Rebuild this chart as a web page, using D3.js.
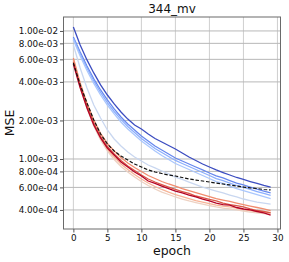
<!DOCTYPE html>
<html>
<head>
<meta charset="utf-8">
<script src="https://cdn.jsdelivr.net/npm/d3@7"></script>
<style>
  body { margin: 0; background: #fff; }
  svg { display: block; font-family: "DejaVu Sans", sans-serif; }
</style>
</head>
<body>
<div id="chart"></div>
<script>
// epochs 0..29, MSE per run
const epochs = d3.range(0, 30);

const runBlue0 = [1.075e-2, 7.77e-3, 5.94e-3, 4.70e-3, 3.79e-3, 3.16e-3, 2.69e-3, 2.33e-3, 2.05e-3, 1.843e-3,
  1.715e-3, 1.568e-3, 1.446e-3, 1.358e-3, 1.275e-3, 1.197e-3, 1.114e-3, 1.037e-3, 9.74e-4, 9.14e-4,
  8.66e-4, 8.21e-4, 7.84e-4, 7.50e-4, 7.17e-4, 6.92e-4, 6.67e-4, 6.44e-4, 6.21e-4, 6.04e-4];
const runBlue1 = [8.98e-3, 6.85e-3, 5.33e-3, 4.22e-3, 3.46e-3, 2.89e-3, 2.46e-3, 2.13e-3, 1.877e-3, 1.685e-3,
  1.512e-3, 1.382e-3, 1.263e-3, 1.176e-3, 1.094e-3, 1.018e-3, 9.65e-4, 9.14e-4, 8.66e-4, 8.21e-4,
  7.77e-4, 7.37e-4, 7.11e-4, 6.79e-4, 6.49e-4, 6.27e-4, 6.04e-4, 5.83e-4, 5.62e-4, 5.43e-4];
const runBlue2 = [8.82e-3, 6.61e-3, 5.14e-3, 4.07e-3, 3.31e-3, 2.76e-3, 2.35e-3, 2.04e-3, 1.794e-3, 1.611e-3,
  1.446e-3, 1.322e-3, 1.208e-3, 1.124e-3, 1.046e-3, 9.74e-4, 9.22e-4, 8.74e-4, 8.28e-4, 7.84e-4,
  7.43e-4, 7.04e-4, 6.79e-4, 6.49e-4, 6.21e-4, 5.99e-4, 5.78e-4, 5.57e-4, 5.38e-4, 5.19e-4];
const runBlue3 = [8.51e-3, 6.38e-3, 4.91e-3, 3.89e-3, 3.16e-3, 2.64e-3, 2.25e-3, 1.946e-3, 1.715e-3, 1.540e-3,
  1.382e-3, 1.263e-3, 1.155e-3, 1.065e-3, 9.91e-4, 9.22e-4, 8.74e-4, 8.28e-4, 7.84e-4, 7.43e-4,
  7.04e-4, 6.67e-4, 6.44e-4, 6.15e-4, 5.88e-4, 5.67e-4, 5.47e-4, 5.28e-4, 5.09e-4, 4.91e-4];
const runBlue4 = [7.77e-3, 5.14e-3, 3.59e-3, 2.64e-3, 2.09e-3, 1.685e-3, 1.433e-3, 1.263e-3, 1.134e-3, 1.037e-3,
  9.65e-4, 8.98e-4, 8.51e-4, 8.06e-4, 7.64e-4, 7.23e-4, 6.92e-4, 6.61e-4, 6.32e-4, 6.04e-4,
  5.83e-4, 5.62e-4, 5.43e-4, 5.23e-4, 5.05e-4, 4.87e-4, 4.74e-4, 4.61e-4, 4.53e-4, 4.45e-4];
const runRed4 = [5.83e-3, 3.65e-3, 2.50e-3, 1.811e-3, 1.407e-3, 1.155e-3, 9.91e-4, 8.74e-4, 7.92e-4, 7.23e-4,
  6.67e-4, 6.21e-4, 5.83e-4, 5.52e-4, 5.28e-4, 5.05e-4, 4.87e-4, 4.70e-4, 4.57e-4, 4.45e-4,
  4.33e-4, 4.22e-4, 4.14e-4, 4.07e-4, 4.00e-4, 3.92e-4, 3.85e-4, 3.79e-4, 3.75e-4, 3.72e-4];
const runRed3 = [5.94e-3, 3.79e-3, 2.59e-3, 1.877e-3, 1.459e-3, 1.197e-3, 1.037e-3, 9.14e-4, 8.28e-4, 7.57e-4,
  6.98e-4, 6.49e-4, 6.10e-4, 5.78e-4, 5.52e-4, 5.28e-4, 5.09e-4, 4.91e-4, 4.74e-4, 4.61e-4,
  4.49e-4, 4.37e-4, 4.29e-4, 4.22e-4, 4.14e-4, 4.03e-4, 3.96e-4, 3.89e-4, 3.85e-4, 3.82e-4];
const runRed2 = [6.15e-3, 3.92e-3, 2.74e-3, 2.02e-3, 1.582e-3, 1.322e-3, 1.155e-3, 1.027e-3, 9.31e-4, 8.58e-4,
  7.99e-4, 7.43e-4, 7.04e-4, 6.67e-4, 6.38e-4, 6.15e-4, 5.88e-4, 5.67e-4, 5.47e-4, 5.28e-4,
  5.09e-4, 4.91e-4, 4.78e-4, 4.66e-4, 4.53e-4, 4.41e-4, 4.29e-4, 4.18e-4, 4.07e-4, 3.96e-4];
const runRed1 = [5.73e-3, 3.72e-3, 2.59e-3, 1.911e-3, 1.499e-3, 1.252e-3, 1.094e-3, 9.74e-4, 8.82e-4, 8.13e-4,
  7.50e-4, 6.98e-4, 6.61e-4, 6.32e-4, 6.04e-4, 5.78e-4, 5.57e-4, 5.38e-4, 5.14e-4, 5.00e-4,
  4.83e-4, 4.70e-4, 4.53e-4, 4.41e-4, 4.33e-4, 4.22e-4, 4.07e-4, 3.96e-4, 3.89e-4, 3.79e-4];
const runRed0 = [5.52e-3, 3.59e-3, 2.50e-3, 1.843e-3, 1.459e-3, 1.219e-3, 1.075e-3, 9.48e-4, 8.66e-4, 7.92e-4,
  7.37e-4, 6.73e-4, 6.44e-4, 6.15e-4, 5.88e-4, 5.62e-4, 5.43e-4, 5.23e-4, 5.05e-4, 4.87e-4,
  4.70e-4, 4.53e-4, 4.41e-4, 4.37e-4, 4.18e-4, 4.07e-4, 4.00e-4, 3.89e-4, 3.79e-4, 3.65e-4];
const meanRun = [5.62e-3, 3.79e-3, 2.74e-3, 2.02e-3, 1.568e-3, 1.310e-3, 1.155e-3, 1.055e-3, 9.82e-4, 9.14e-4,
  8.66e-4, 8.21e-4, 7.92e-4, 7.70e-4, 7.50e-4, 7.37e-4, 7.17e-4, 6.98e-4, 6.85e-4, 6.73e-4,
  6.61e-4, 6.49e-4, 6.38e-4, 6.27e-4, 6.15e-4, 6.04e-4, 5.94e-4, 5.88e-4, 5.78e-4, 5.73e-4];

const runs = [runBlue0, runBlue1, runBlue2, runBlue3, runBlue4, runRed4, runRed3, runRed2, runRed1, runRed0];
const runColors = ["#3b4cc0", "#6788ee", "#8caffe", "#aac7fd", "#c9d7f0",
                   "#edd1c2", "#f7b396", "#f18d6f", "#d95847", "#b40426"];

const xTicks = [0, 5, 10, 15, 20, 25, 30];
const yTicks = [1e-2, 8e-3, 6e-3, 4e-3, 2e-3, 1e-3, 8e-4, 6e-4, 4e-4];

const width = 289, height = 262;
const m = {left: 63.5, right: 280.5, top: 17, bottom: 229};

const svg = d3.select("#chart").append("svg")
    .attr("width", width)
    .attr("height", height);

const x = d3.scaleLinear().domain([-1.45, 30.45]).range([m.left, m.right]);
const y = d3.scaleLog().domain([2.84e-4, 1.285e-2]).range([m.bottom, m.top]);

// grid
svg.append("g").selectAll("line").data(xTicks).enter().append("line")
   .attr("x1", d => x(d)).attr("x2", d => x(d))
   .attr("y1", m.top).attr("y2", m.bottom)
   .attr("stroke", "#cfcfcf").attr("stroke-width", 1);
svg.append("g").selectAll("line").data(yTicks).enter().append("line")
   .attr("x1", m.left).attr("x2", m.right)
   .attr("y1", d => y(d)).attr("y2", d => y(d))
   .attr("stroke", "#b8b8b8").attr("stroke-width", 1);

const line = d3.line().x((d, i) => x(epochs[i])).y(d => y(d));

svg.append("g").selectAll("path").data(runs).enter().append("path")
   .attr("d", line)
   .attr("fill", "none")
   .attr("stroke", (d, i) => runColors[i])
   .attr("stroke-width", 1.3);

svg.append("path")
   .attr("d", line(meanRun))
   .attr("fill", "none")
   .attr("stroke", "#111")
   .attr("stroke-width", 1.2)
   .attr("stroke-dasharray", "3.5,1.8");

// frame
svg.append("rect")
   .attr("x", m.left).attr("y", m.top)
   .attr("width", m.right - m.left).attr("height", m.bottom - m.top)
   .attr("fill", "none").attr("stroke", "#6a6a6a").attr("stroke-width", 1);

const xAxis = svg.append("g")
   .attr("transform", `translate(0,${m.bottom})`)
   .call(d3.axisBottom(x).tickValues(xTicks).tickSize(3.5).tickPadding(2.5));
const yAxis = svg.append("g")
   .attr("transform", `translate(${m.left},0)`)
   .call(d3.axisLeft(y).tickValues(yTicks).tickSize(3.5).tickPadding(2)
         .tickFormat(d => d.toExponential(2).replace(/e([+-])(\d)$/, "e$10$2")));

[xAxis, yAxis].forEach(a => {
  a.select(".domain").remove();
  a.selectAll(".tick line").attr("stroke", "#555");
  a.selectAll(".tick text").attr("fill", "#111")
   .style("font-family", "DejaVu Sans, sans-serif").style("font-size", "8.8px");
});

svg.append("text")
   .attr("x", (m.left + m.right) / 2).attr("y", 13)
   .attr("text-anchor", "middle")
   .style("font-size", "12px").attr("fill", "#111")
   .text("344_mv");

svg.append("text")
   .attr("x", (m.left + m.right) / 2).attr("y", 255)
   .attr("text-anchor", "middle")
   .style("font-size", "12.5px").attr("fill", "#111")
   .text("epoch");

svg.append("text")
   .attr("transform", `translate(14,${(m.top + m.bottom) / 2}) rotate(-90)`)
   .attr("text-anchor", "middle")
   .style("font-size", "12.5px").attr("fill", "#111")
   .text("MSE");
</script>
</body>
</html>
